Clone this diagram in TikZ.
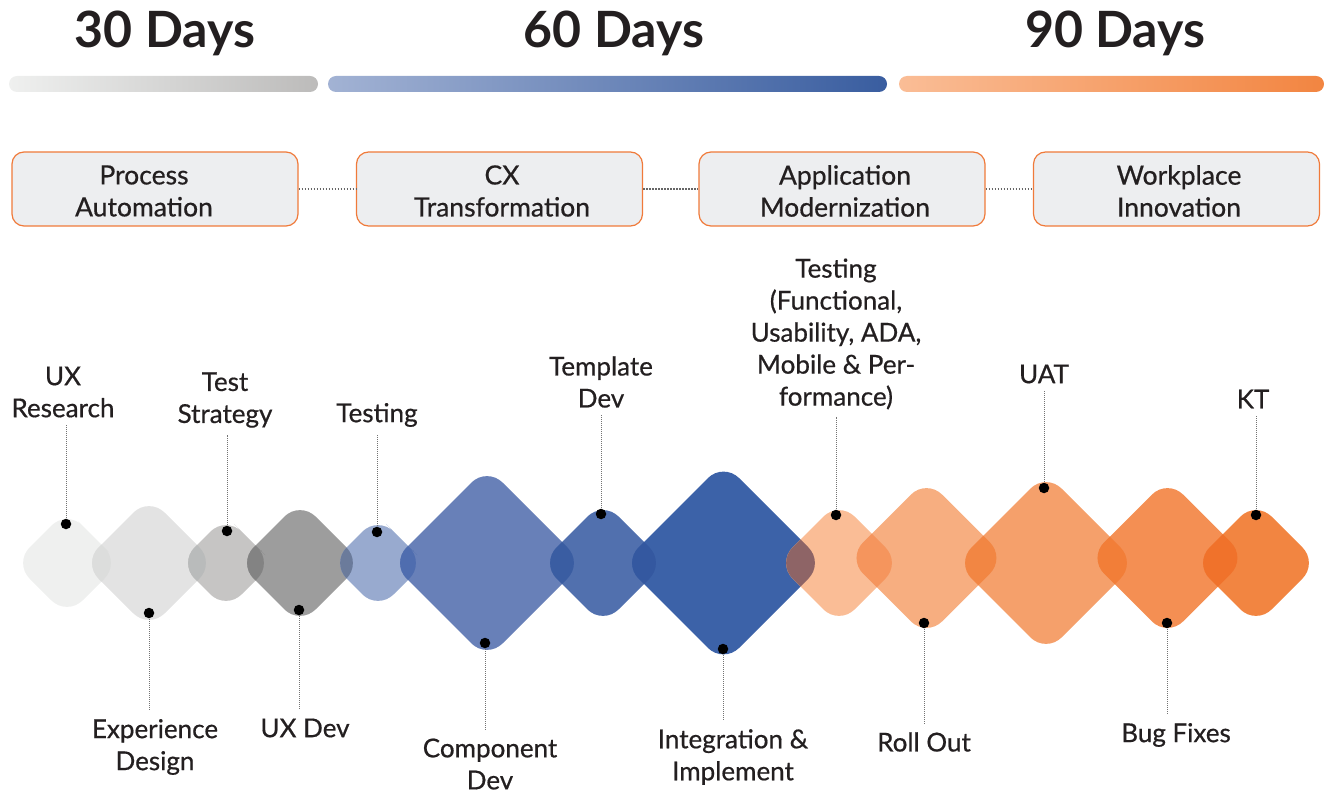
\documentclass[tikz,border=0pt]{standalone}
\usepackage{fontspec}
\setmainfont{Lato}
\newfontfamily\medfont[FakeBold=0.6]{Lato}
\definecolor{txt}{HTML}{231F20}
\definecolor{boxor}{HTML}{F07A3A}
\definecolor{boxfill}{HTML}{EDEEF0}
\definecolor{cA}{HTML}{EFF0EF}
\definecolor{cB}{HTML}{E3E3E3}
\definecolor{cC}{HTML}{C6C5C4}
\definecolor{cD}{HTML}{9D9D9D}
\definecolor{cE}{HTML}{98AACF}
\definecolor{cF}{HTML}{6880B8}
\definecolor{cG}{HTML}{5170AE}
\definecolor{cH}{HTML}{3C62A8}
\definecolor{cI}{HTML}{FABD96}
\definecolor{cJ}{HTML}{F7AE80}
\definecolor{cK}{HTML}{F5A06B}
\definecolor{cL}{HTML}{F48F53}
\definecolor{cM}{HTML}{F28541}
\definecolor{oAB}{HTML}{DCDDDC}
\definecolor{oBC}{HTML}{B9BBBB}
\definecolor{oCD}{HTML}{838383}
\definecolor{oDE}{HTML}{6B7B9B}
\definecolor{oEF}{HTML}{4F6DAF}
\definecolor{oFG}{HTML}{3A5DA2}
\definecolor{oGH}{HTML}{3458A0}
\definecolor{oHI}{HTML}{8E6466}
\definecolor{oIJ}{HTML}{F5955D}
\definecolor{oJK}{HTML}{F28643}
\definecolor{oKL}{HTML}{F27E38}
\definecolor{oLM}{HTML}{F0722B}
\newcommand{\mydfill}[4]{\fill[#1,rounded corners=22pt] ({#2+#4/2},{#3-#4/2}) -- ({#2+#4},#3) -- (#2,{#3+#4}) -- ({#2-#4},#3) -- (#2,{#3-#4}) -- cycle;}
\newcommand{\mydclip}[3]{\clip[rounded corners=22pt] ({#1+#3/2},{#2-#3/2}) -- ({#1+#3},#2) -- (#1,{#2+#3}) -- ({#1-#3},#2) -- (#1,{#2-#3}) -- cycle;}
\tikzset{
  hdr/.style={font=\fontsize{50}{56}\selectfont\bfseries, text=txt, inner sep=0pt, anchor=base},
  boxnode/.style={draw=boxor, fill=boxfill, line width=1.2pt, rounded corners=12pt, minimum width=286pt, minimum height=74pt, inner sep=0pt},
  boxtxt/.style={align=center, font=\medfont\fontsize{26.5}{32}\selectfont, text=txt, inner sep=0pt},
  lbl/.style={align=center, font=\medfont\fontsize{26}{32}\selectfont, text=txt, inner sep=0pt},
  dotn/.style={circle, fill=black, inner sep=0pt, minimum size=10.5pt},
  conn/.style={draw=black!55, line width=0.9pt, dash pattern=on 1pt off 1pt},
  bconn/.style={draw=black!60, line width=1.1pt, dash pattern=on 1.5pt off 1.5pt}
}
\begin{document}
\begin{tikzpicture}[x=1pt,y=-1pt]
\useasboundingbox (0,0) rectangle (1325,791);
% headers
\node[hdr] (h30) at (165,48) {30 Days};
\node[hdr] (h60) at (614,48) {60 Days};
\node[hdr] (h90) at (1115,48) {90 Days};
\shade[left color=cA, right color=cC!95!black, rounded corners=8pt] (9,76) rectangle (318,92);
\shade[left color=cE!90!white, right color=cH!95!black, rounded corners=8pt] (328,76) rectangle (887,92);
\shade[left color=cI, right color=cM, rounded corners=8pt] (899,76) rectangle (1324,92);
% boxes
\node[boxnode] (b1) at (155,189) {};
\node[boxnode] (b2) at (499.5,189) {};
\node[boxnode] (b3) at (842,189) {};
\node[boxnode] (b4) at (1176.5,189) {};
\node[boxtxt] (t1) at (144,191) {Process\\Automation};
\node[boxtxt] (t2) at (502,191) {CX\\Transformation};
\node[boxtxt] (t3) at (845,191) {Application\\Modernization};
\node[boxtxt] (t4) at (1179,191) {Workplace\\Innovation};
\draw[bconn] (b1.east) -- (b2.west);
\draw[bconn] (b2.east) -- (b3.west);
\draw[bconn] (b3.east) -- (b4.west);
% diamonds
\mydfill{cA}{67}{563}{53}
\mydfill{cB}{149}{563}{66}
\mydfill{cC}{226}{563}{47}
\mydfill{cD}{300}{563}{62}
\mydfill{cE}{378}{563}{47}
\mydfill{cF}{487}{563}{96}
\mydfill{cG}{603}{563}{62}
\mydfill{cH}{723.5}{563}{100.5}
\mydfill{cI}{839}{563}{62}
\mydfill{cJ}{926.5}{558}{79}
\mydfill{cK}{1046}{563}{90}
\mydfill{cL}{1167.5}{558}{79}
\mydfill{cM}{1256}{563}{62}
% overlaps
\begin{scope}\mydclip{67}{563}{53}\mydfill{oAB}{149}{563}{66}\end{scope}
\begin{scope}\mydclip{149}{563}{66}\mydfill{oBC}{226}{563}{47}\end{scope}
\begin{scope}\mydclip{226}{563}{47}\mydfill{oCD}{300}{563}{62}\end{scope}
\begin{scope}\mydclip{300}{563}{62}\mydfill{oDE}{378}{563}{47}\end{scope}
\begin{scope}\mydclip{378}{563}{47}\mydfill{oEF}{487}{563}{96}\end{scope}
\begin{scope}\mydclip{487}{563}{96}\mydfill{oFG}{603}{563}{62}\end{scope}
\begin{scope}\mydclip{603}{563}{62}\mydfill{oGH}{723.5}{563}{100.5}\end{scope}
\begin{scope}\mydclip{723.5}{563}{100.5}\mydfill{oHI}{839}{563}{62}\end{scope}
\begin{scope}\mydclip{839}{563}{62}\mydfill{oIJ}{926.5}{558}{79}\end{scope}
\begin{scope}\mydclip{926.5}{558}{79}\mydfill{oJK}{1046}{563}{90}\end{scope}
\begin{scope}\mydclip{1046}{563}{90}\mydfill{oKL}{1167.5}{558}{79}\end{scope}
\begin{scope}\mydclip{1167.5}{558}{79}\mydfill{oLM}{1256}{563}{62}\end{scope}
% labels
\node[lbl] (l1) at (63,392) {UX\\Research};
\node[lbl] (l3) at (225,400) {Test\\Strategy};
\node[lbl] (l5) at (377,415) {Testing};
\node[lbl] (l7) at (601,382) {Template\\Dev};
\node[lbl] (l9) at (836,334) {Testing\\(Functional,\\Usability, ADA,\\Mobile \& Per-\\formance)};
\node[lbl] (l11) at (1044,374) {UAT};
\node[lbl] (l13) at (1253,399) {KT};
\node[lbl] (l2) at (155,747) {Experience\\Design};
\node[lbl] (l4) at (305,728) {UX Dev};
\node[lbl] (l6) at (490,764) {Component\\Dev};
\node[lbl] (l8) at (733,757) {Integration \&\\Implement};
\node[lbl] (l10) at (924,742) {Roll Out};
\node[lbl] (l12) at (1176,735) {Bug Fixes};
% dots
\coordinate (p1) at (66,524);
\coordinate (p2) at (149,613);
\coordinate (p3) at (227,531);
\coordinate (p4) at (299,610);
\coordinate (p5) at (377,532);
\coordinate (p6) at (485,643);
\coordinate (p7) at (601,514);
\coordinate (p8) at (723,649);
\coordinate (p9) at (836,515);
\coordinate (p10) at (924,623);
\coordinate (p11) at (1044,488);
\coordinate (p12) at (1167,623);
\coordinate (p13) at (1256,515);
\foreach \i in {1,3,5,7,9,11,13} {\draw[conn] (p\i) -- ([yshift=-7pt]p\i |- l\i.south);}
\foreach \i in {2,4,6,8,10,12} {\draw[conn] (p\i) -- ([yshift=9pt]p\i |- l\i.north);}
\foreach \i in {1,...,13} {\node[dotn] (d\i) at (p\i) {};}
\end{tikzpicture}
\end{document}
